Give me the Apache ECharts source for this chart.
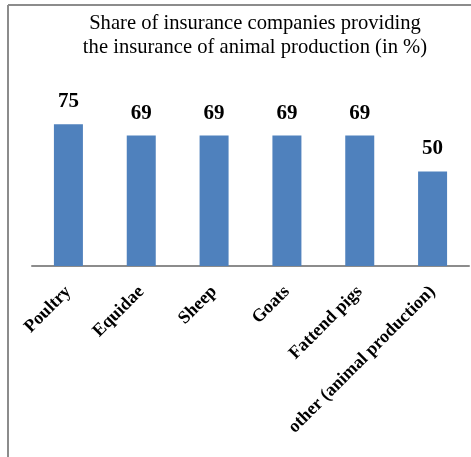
<!DOCTYPE html>
<html>
<head>
<meta charset="utf-8">
<script src="https://cdn.jsdelivr.net/npm/echarts@6/dist/echarts.min.js"></script>
<style>
  html, body { margin: 0; padding: 0; background: #fff; }
  #chart { width: 471px; height: 457px; }
</style>
</head>
<body>
<div id="chart"></div>
<script>
// Share of insurers covering each kind of animal production (%)
const categories = ['Poultry', 'Equidae', 'Sheep', 'Goats', 'Fattend pigs', 'other (animal production)'];
const shares = [75, 69, 69, 69, 69, 50];
const titleLines = ['Share of insurance companies providing', 'the insurance of animal production (in %)'];

const serif = '"Liberation Serif", "Times New Roman", serif';
const chart = echarts.init(document.getElementById('chart'), null, { renderer: 'canvas' });

chart.setOption({
  animation: false,
  backgroundColor: '#ffffff',
  title: {
    text: titleLines.join('\n'),
    left: 250,
    top: 7,
    textAlign: 'center',
    textStyle: {
      fontFamily: serif,
      fontSize: 20.6,
      fontWeight: 'normal',
      color: '#000',
      lineHeight: 24
    }
  },
  graphic: [
    { type: 'line', shape: { x1: 8, y1: 5, x2: 471, y2: 5 }, style: { stroke: '#8c8c8c', lineWidth: 2 } },
    { type: 'line', shape: { x1: 8, y1: 5, x2: 8, y2: 457 }, style: { stroke: '#8c8c8c', lineWidth: 2 } }
  ],
  grid: { left: 32, right: 2, top: 77, height: 189 },
  xAxis: {
    type: 'category',
    data: categories,
    axisLine: { show: true, lineStyle: { color: '#8c8c8c', width: 2 } },
    axisTick: { show: false },
    axisLabel: {
      rotate: 45,
      interval: 0,
      margin: 23,
      fontFamily: serif,
      fontSize: 18,
      fontWeight: 'bold',
      color: '#000'
    }
  },
  yAxis: {
    type: 'value',
    min: 0,
    max: 100,
    show: false,
    splitLine: { show: false }
  },
  series: [{
    type: 'bar',
    data: shares,
    barWidth: 29,
    itemStyle: { color: '#4f81bd' },
    label: {
      show: true,
      position: 'top',
      distance: 12,
      fontFamily: serif,
      fontSize: 21,
      fontWeight: 'bold',
      color: '#000'
    }
  }]
});
</script>
</body>
</html>
